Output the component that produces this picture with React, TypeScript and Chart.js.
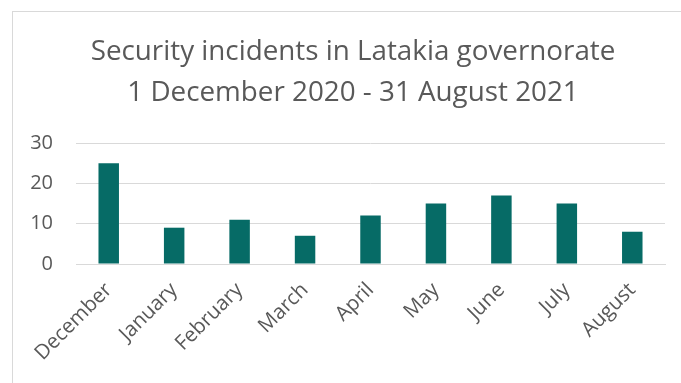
import React, { useEffect, useRef } from "react";
import { Chart, registerables } from "chart.js";

Chart.register(...registerables);

const categories = ["December", "January", "February", "March", "April", "May", "June", "July", "August"];
const incidents = [25, 9, 11, 7, 12, 15, 17, 15, 8];
const yTicks = [0, 10, 20, 30];
const titleLines = ["Security incidents in Latakia governorate", "1 December 2020 - 31 August 2021"];

const FONT = "'Open Sans', Lato, sans-serif";
const TEXT = "#595959";

export default function App() {
  const ref = useRef<HTMLCanvasElement | null>(null);
  useEffect(() => {
    if (!ref.current) return;
    const titlePlugin = {
      id: "customTitle",
      afterDraw(chart: any) {
        const ctx = chart.ctx;
        ctx.save();
        ctx.fillStyle = TEXT;
        ctx.font = `27.8px ${FONT}`;
        ctx.textAlign = "center";
        ctx.textBaseline = "alphabetic";
        ctx.fillText(titleLines[0], 353, 60);
        ctx.fillText(titleLines[1], 353, 101);
        ctx.restore();
      },
    };
    const chart = new Chart(ref.current, {
      type: "bar",
      data: {
        labels: categories,
        datasets: [
          {
            data: incidents,
            backgroundColor: "#066B66",
            borderWidth: 0,
            barPercentage: 0.313,
            categoryPercentage: 1,
          },
        ],
      },
      options: {
        animation: false,
        responsive: false,
        maintainAspectRatio: false,
        layout: { padding: { top: 143, right: 16, bottom: 0, left: 0 } },
        plugins: { legend: { display: false }, title: { display: false }, tooltip: { enabled: false } },
        scales: {
          y: {
            min: 0,
            max: 30,
            afterBuildTicks(scale: any) {
              scale.ticks = yTicks.map((v) => ({ value: v }));
            },
            afterFit(scale: any) {
              scale.width = 76;
            },
            border: { display: false },
            grid: { color: "#D9D9D9", lineWidth: 1, drawTicks: false },
            ticks: { color: TEXT, font: { family: FONT, size: 20 }, padding: 23 },
          },
          x: {
            afterFit(scale: any) {
              scale.height = 119;
            },
            border: { display: true, color: "#D9D9D9" },
            grid: { display: false, drawTicks: false },
            ticks: {
              color: TEXT,
              font: { family: FONT, size: 20.5 },
              minRotation: 45,
              maxRotation: 45,
              padding: 14,
              autoSkip: false,
            },
          },
        },
      },
      plugins: [titlePlugin],
    });
    return () => chart.destroy();
  }, []);
  return (
    <div style={{ position: "fixed", left: 0, top: 0, width: 681, height: 383, overflow: "hidden", background: "#fff" }}>
      <div
        style={{
          position: "absolute",
          left: 12,
          top: 11,
          width: 720,
          height: 420,
          border: "1px solid #D9D9D9",
          boxSizing: "border-box",
        }}
      />
      <canvas ref={ref} width={681} height={383} style={{ position: "absolute", left: 0, top: 0 }} />
    </div>
  );
}
